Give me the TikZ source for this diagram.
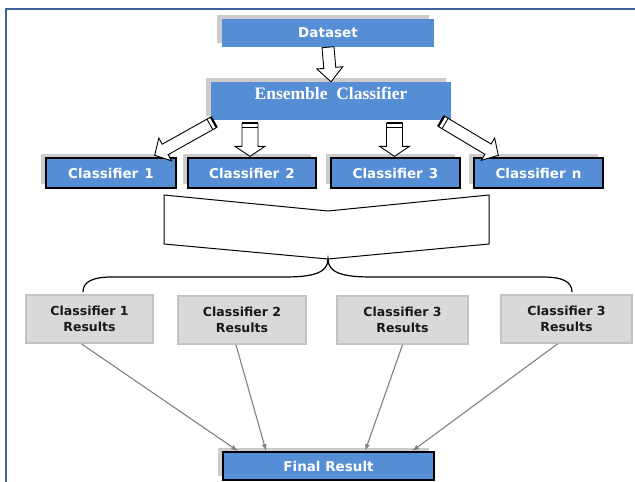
\documentclass[tikz,border=0pt]{standalone}
\usepackage{fontspec}
\usepackage{tikz}
\usetikzlibrary{calc,shadows,arrows.meta}
\newfontfamily\boxfont{DejaVu Sans}
\newfontfamily\ensfont{Liberation Serif}
\definecolor{boxblue}{RGB}{85,142,213}
\definecolor{frameblue}{RGB}{62,98,156}
\definecolor{resgray}{RGB}{217,217,217}
\definecolor{resedge}{RGB}{195,195,195}
\definecolor{linkgray}{RGB}{128,128,128}
\tikzstyle{line}=[draw]
\tikzstyle{bluebox}=[rectangle,fill=boxblue,text=white,inner sep=0pt,font=\boxfont\bfseries\fontsize{13.5}{16}\selectfont,drop shadow={shadow xshift=-5pt,shadow yshift=4pt,fill=black!40,opacity=0.5}]
\tikzstyle{clfbox}=[bluebox,draw=black,line width=1.4pt,minimum height=30pt]
\tikzstyle{resbox}=[rectangle,fill=resgray,draw=resedge,line width=1.8pt,inner sep=0pt,minimum height=48pt,align=center,text=black!90,font=\boxfont\bfseries\fontsize{12.5}{16}\selectfont]
\tikzstyle{link}=[draw=linkgray,line width=1.1pt,-{Latex[length=7pt,width=5pt]}]
\newcommand{\blockarrow}[5]{%
\coordinate (bah) at ($(#2)!#5!(#1)$);
\draw [line,fill=white,line width=0.9pt,line join=miter] ($(#1)!#3!90:(#2)$) -- ($(bah)!#3!90:(#2)$) -- ($(bah)!#4!90:(#2)$) -- (#2) -- ($(bah)!#4!-90:(#2)$) -- ($(bah)!#3!-90:(#2)$) -- ($(#1)!#3!-90:(#2)$) -- cycle;}
\newcommand{\stripedarrow}[5]{%
\blockarrow{#1}{#2}{#3}{#4}{#5}
\coordinate (bat) at ($(#1)!4.5pt!(#2)$);
\draw [line,line width=2.2pt] ($(#1)!#3!90:(#2)$) -- ($(#1)!#3!-90:(#2)$);
\draw [line,line width=0.9pt] ($(bat)!#3!90:(#2)$) -- ($(bat)!#3!-90:(#2)$);}
\begin{document}
\begin{tikzpicture}[x=1pt,y=-1pt]
\useasboundingbox (0,0) rectangle (635,482);
\draw [line,frameblue,line width=2.2pt] (6,482) -- (6,9) -- (635,9);
\node[bluebox,minimum width=212pt,minimum height=28pt](data) at (328,33) {Dataset};
\node[bluebox,minimum width=240pt,minimum height=38pt,text height=12pt,text depth=16pt,font=\ensfont\bfseries\fontsize{17.5}{20}\selectfont](ens) at (331,101) {Ensemble\ \ Classifier};
\node[clfbox,minimum width=130pt](c1) at (111,173) {Classifier\hspace{0.45em}1};
\node[clfbox,minimum width=128pt](c2) at (252,173) {Classifier\hspace{0.45em}2};
\node[clfbox,minimum width=129pt](c3) at (395.5,173) {Classifier\hspace{0.45em}3};
\node[clfbox,minimum width=129pt](cn) at (538.5,173) {Classifier\hspace{0.45em}n};
\coordinate (a0) at (data.south);
\coordinate (b0) at (ens.north);
\blockarrow{a0}{b0}{6pt}{13pt}{14pt}
\coordinate (a1) at ($(ens.south west)+(3,2)$);
\coordinate (b1) at ($(c1.north east)+(-22,-2)$);
\stripedarrow{a1}{b1}{6pt}{13pt}{12pt}
\coordinate (a2) at ($(c2.north |- ens.south)+(-2,3)$);
\coordinate (b2) at ($(c2.north)+(-2,-1)$);
\stripedarrow{a2}{b2}{8pt}{15pt}{10pt}
\coordinate (a3) at ($(c3.north |- ens.south)+(-1,3)$);
\coordinate (b3) at ($(c3.north)+(-1,-1)$);
\stripedarrow{a3}{b3}{8pt}{15pt}{10pt}
\coordinate (a4) at ($(ens.south east)+(-10,1)$);
\coordinate (b4) at ($(cn.north west)+(25,-2)$);
\stripedarrow{a4}{b4}{6pt}{13pt}{12pt}
\draw [line,fill=white,line width=1pt] (164,195) -- (328,211) -- (489,195) -- (489,244) -- (328,259) -- (164,244) -- cycle;
\draw [line,line width=1.2pt] (83,292) .. controls (83,282) and (92,277) .. (112,277) -- (285,277) .. controls (315,277) and (328,272) .. (328,259) .. controls (328,272) and (341,277) .. (371,277) -- (543,277) .. controls (563,277) and (572,282) .. (572,292);
\node[resbox,minimum width=127pt](r1) at (89.5,319) {Classifier 1\\Results};
\node[resbox,minimum width=128pt](r2) at (242,320) {Classifier 2\\Results};
\node[resbox,minimum width=131pt](r3) at (402.5,320) {Classifier 3\\Results};
\node[resbox,minimum width=131pt](r4) at (566.5,319) {Classifier 3\\Results};
\node[clfbox,minimum width=211pt,minimum height=28pt,line width=1.8pt](fin) at (328.5,466) {Final Result};
\draw [link] ([xshift=-8pt]r1.south) -- ([xshift=16pt]fin.north west);
\draw [link] ([xshift=-6pt]r2.south) -- ([xshift=44pt]fin.north west);
\draw [link] (r3.south) -- ([xshift=143pt]fin.north west);
\draw [link] ([xshift=-9pt]r4.south) -- ([xshift=190pt]fin.north west);
\end{tikzpicture}
\end{document}
